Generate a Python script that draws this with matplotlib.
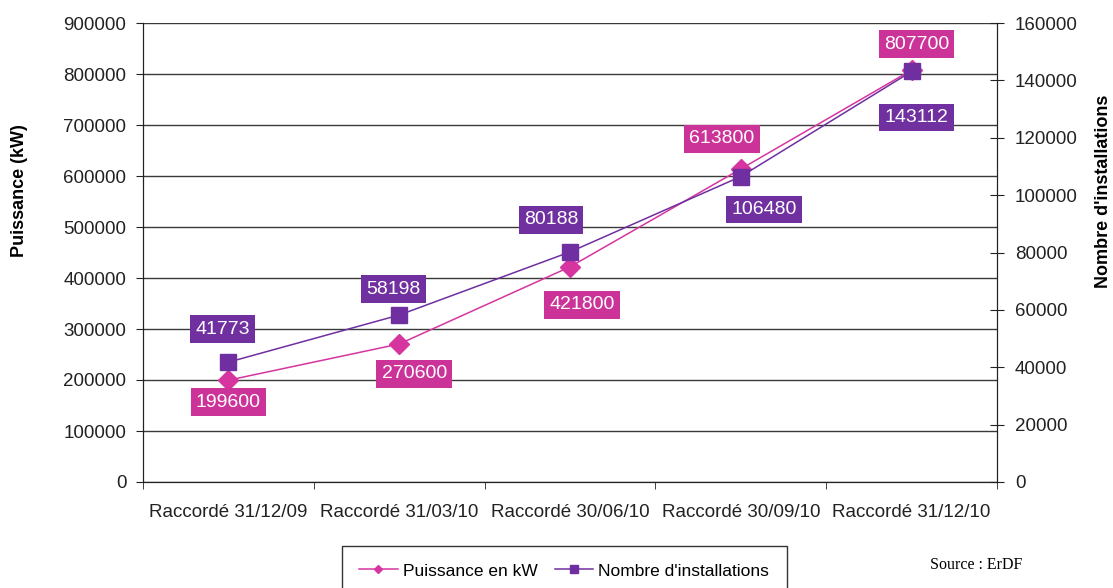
import matplotlib
matplotlib.use('Agg')
import matplotlib.pyplot as plt
import numpy as np

plt.rcParams['font.family'] = ['Liberation Sans', 'DejaVu Sans']

# Data
categories = ['Raccordé 31/12/09', 'Raccordé 31/03/10', 'Raccordé 30/06/10',
              'Raccordé 30/09/10', 'Raccordé 31/12/10']
puissance = [199600, 270600, 421800, 613800, 807700]
installations = [41773, 58198, 80188, 106480, 143112]

PINK = '#d6359f'
PURPLE = '#6f2fa0'
BOX_PINK = '#cc3399'
BOX_PURPLE = '#7030a0'
TXT = '#222222'

fig = plt.figure(figsize=(11.13, 5.88), dpi=100)
ax = fig.add_axes([143 / 1113, 1 - 482 / 588, (997 - 143) / 1113, (482 - 23) / 588])
ax2 = ax.twinx()

x = np.arange(len(categories))
ax.plot(x, puissance, color=PINK, lw=1.1, marker='D', ms=10,
        mfc=PINK, mec=PINK, label='Puissance en kW', zorder=3)
ax2.plot(x, installations, color=PURPLE, lw=1.1, marker='s', ms=12,
         mfc=PURPLE, mec=PURPLE, label="Nombre d'installations", zorder=3)

ax.set_xlim(-0.5, len(categories) - 0.5)
ax.set_ylim(0, 900000)
ax2.set_ylim(0, 160000)
ax.set_yticks(np.arange(0, 900001, 100000))
ax2.set_yticks(np.arange(0, 160001, 20000))
ax.yaxis.grid(True, color='#3a3a3a', lw=1.0)
ax.set_axisbelow(True)

ax.set_xticks(x)
ax.set_xticklabels(categories, fontsize=13.5, color=TXT)
ax.tick_params(axis='x', length=0, pad=16)
ax.set_xticks(np.arange(-0.5, len(categories)), minor=True)
ax.tick_params(axis='x', which='minor', length=5, direction='out', color=TXT)
ax.tick_params(axis='y', labelsize=13.5, length=5, direction='out',
               labelcolor=TXT, color=TXT, pad=7)
ax2.tick_params(axis='y', labelsize=13.5, length=10, direction='inout',
                labelcolor=TXT, color=TXT, pad=8)

for a in (ax, ax2):
    a.spines['top'].set_visible(False)
    for s in ('left', 'right', 'bottom'):
        a.spines[s].set_color(TXT)

# axis titles, centred on the reference positions
fig.text(20 / 1113, 1 - 191 / 588, 'Puissance (kW)', fontsize=13, fontweight='bold',
         rotation=90, ha='center', va='center')
fig.text(1103 / 1113, 1 - 191 / 588, "Nombre d'installations", fontsize=13,
         fontweight='bold', rotation=90, ha='center', va='center')

# data labels, offsets in pixels from the marker
def label(axis, xv, yv, text, dx, dy, color):
    axis.annotate(text, (xv, yv), xytext=(dx, dy), textcoords='offset pixels',
                  ha='center', va='center', color='white', fontsize=14,
                  bbox=dict(boxstyle='square,pad=0.27', fc=color, ec='none'),
                  zorder=5)

p_off = [(0, -22), (15, -30), (12, -38), (-19, 30), (5, 26)]
i_off = [(-6, 33), (-6, 26), (-19, 32), (23, -33), (5, -46)]
for i in range(len(categories)):
    label(ax, x[i], puissance[i], str(puissance[i]), *p_off[i], BOX_PINK)
    label(ax2, x[i], installations[i], str(installations[i]), *i_off[i], BOX_PURPLE)

# legend
h1, l1 = ax.get_legend_handles_labels()
h2, l2 = ax2.get_legend_handles_labels()
leg = fig.legend(h1 + h2, l1 + l2, loc='upper left', ncol=2,
                 bbox_to_anchor=(342 / 1113, 1 - 546 / 588),
                 fontsize=12.5, frameon=True, fancybox=False, edgecolor='black',
                 markerscale=0.45, handlelength=2.2, handletextpad=0.3,
                 columnspacing=1.0, borderpad=1.0, borderaxespad=0)
leg.get_frame().set_linewidth(1.0)

fig.text(930 / 1113, 1 - 565 / 588, 'Source : ErDF', fontsize=11.5,
         family='Liberation Serif', ha='left', va='center')

fig.savefig('out.png', dpi=100)
